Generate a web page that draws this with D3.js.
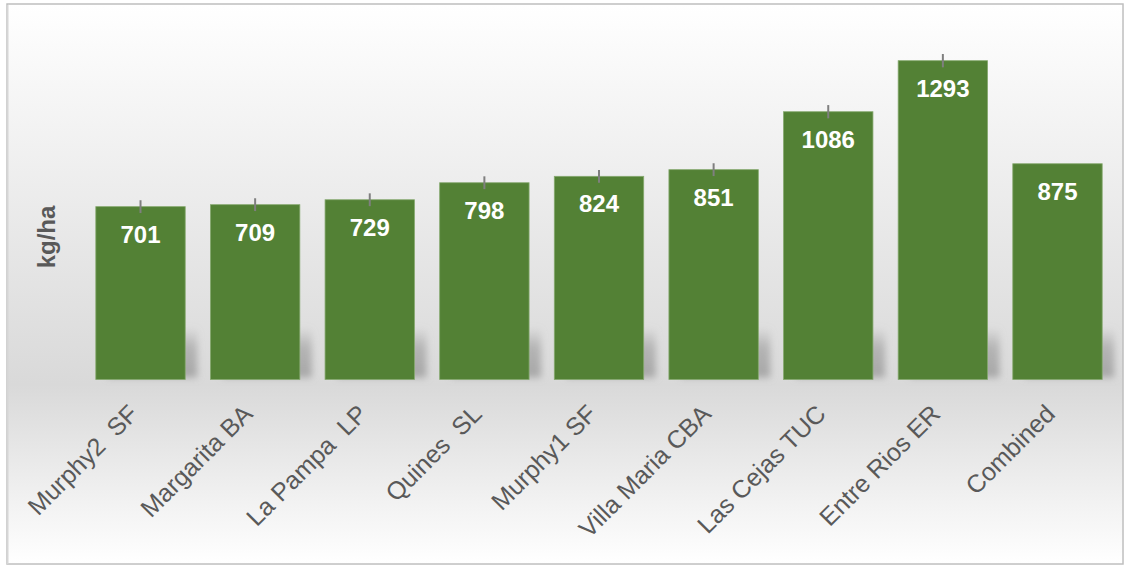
<!DOCTYPE html>
<html>
<head>
<meta charset="utf-8">
<script src="https://cdn.jsdelivr.net/npm/d3@7"></script>
<style>
  body { margin: 0; background: #fff; }
  svg { display: block; font-family: "Liberation Sans", Arial, sans-serif; }
</style>
</head>
<body>
<div id="chart"></div>
<script>
// data
var categories = ["Murphy2  SF", "Margarita BA", "La Pampa  LP", "Quines  SL", "Murphy1 SF",
                  "Villa Maria CBA", "Las Cejas TUC", "Entre Rios ER", "Combined"];
var values = [701, 709, 729, 798, 824, 851, 1086, 1293, 875];
var errors = [26, 26, 26, 26, 26, 26, 27, 27, null];
var yTitle = "kg/ha";

var W = 1128, H = 566;
var svg = d3.select("#chart").append("svg").attr("width", W).attr("height", H);
var defs = svg.append("defs");

/* ---------------------------------------------------------------*/
// background box with vertical gradient
var bg = defs.append("linearGradient").attr("id", "bgGrad")
  .attr("x1", 0).attr("y1", 0).attr("x2", 0).attr("y2", 1);
bg.append("stop").attr("offset", "0%").attr("stop-color", "#ffffff");
bg.append("stop").attr("offset", "68%").attr("stop-color", "#d9d9d9");
bg.append("stop").attr("offset", "100%").attr("stop-color", "#ffffff");

var blur = defs.append("filter").attr("id", "shadowBlur")
  .attr("x", "-30%").attr("y", "-30%").attr("width", "160%").attr("height", "160%");
blur.append("feGaussianBlur").attr("stdDeviation", 3.5);

var sg = defs.append("linearGradient").attr("id", "shGrad")
  .attr("x1", 0).attr("y1", 0).attr("x2", 0).attr("y2", 1);
sg.append("stop").attr("offset", "0%").attr("stop-color", "#9a9a9a").attr("stop-opacity", 0);
sg.append("stop").attr("offset", "40%").attr("stop-color", "#9a9a9a").attr("stop-opacity", 0.6);
sg.append("stop").attr("offset", "100%").attr("stop-color", "#9a9a9a").attr("stop-opacity", 0.8);

svg.append("rect")
  .attr("x", 7).attr("y", 4).attr("width", 1116).attr("height", 560)
  .attr("fill", "url(#bgGrad)")
  .attr("stroke", "#bfbfbf").attr("stroke-width", 1.5);
svg.append("line").attr("x1", 7.5).attr("x2", 7.5).attr("y1", 5).attr("y2", 564)
  .attr("stroke", "#d6d6d6").attr("stroke-width", 2);

/* ---------------------------------------------------------------*/
var x = d3.scaleBand().domain(categories).range([83.2, 1114.8])
  .paddingInner(0.22).paddingOuter(0.11);
var y = d3.scaleLinear().domain([0, 1400]).range([379.5, 34.3]);
var bw = x.bandwidth();

var rows = categories.map(function(c, i) { return {cat: c, v: values[i], e: errors[i]}; });

// bar shadows near the floor
svg.append("g")
  .selectAll("rect").data(rows).enter().append("rect")
  .attr("x", function(d) { return x(d.cat) + 12; })
  .attr("y", y(0) - 52)
  .attr("width", bw)
  .attr("height", 50)
  .attr("fill", "url(#shGrad)")
  .attr("filter", "url(#shadowBlur)");

// bars
svg.append("g").selectAll("rect").data(rows).enter().append("rect")
  .attr("x", function(d) { return x(d.cat); })
  .attr("y", function(d) { return y(d.v); })
  .attr("width", bw)
  .attr("height", function(d) { return y(0) - y(d.v); })
  .attr("fill", "#538135")
  .attr("stroke", "#86a96f").attr("stroke-width", 0.8);

// error bars
svg.append("g").selectAll("line").data(rows.filter(function(d) { return d.e; })).enter().append("line")
  .attr("x1", function(d) { return x(d.cat) + bw / 2; })
  .attr("x2", function(d) { return x(d.cat) + bw / 2; })
  .attr("y1", function(d) { return y(d.v + d.e); })
  .attr("y2", function(d) { return y(d.v - d.e); })
  .attr("stroke", "#7f7f7f").attr("stroke-width", 2);

// value labels
svg.append("g").selectAll("text").data(rows).enter().append("text")
  .attr("x", function(d) { return x(d.cat) + bw / 2; })
  .attr("y", function(d) { return y(d.v) + 36; })
  .attr("text-anchor", "middle")
  .attr("fill", "#ffffff")
  .attr("font-weight", "bold")
  .attr("font-size", 24)
  .text(function(d) { return d.v; });

// x axis labels
var xAxis = d3.axisBottom(x).tickSize(0).tickPadding(0);
var gx = svg.append("g").attr("transform", "translate(0," + y(0) + ")").call(xAxis);
gx.select(".domain").remove();
gx.selectAll(".tick text")
  .attr("font-family", "Liberation Sans, Arial, sans-serif")
  .attr("font-size", 25)
  .attr("fill", "#595959")
  .attr("text-anchor", "end")
  .attr("dy", null)
  .attr("y", 0)
  .style("white-space", "pre")
  .attr("transform", "translate(-1,36) rotate(-45)");

// y title
svg.append("text")
  .attr("transform", "translate(55," + 237 + ") rotate(-90)")
  .attr("text-anchor", "middle")
  .attr("fill", "#595959")
  .attr("font-weight", "bold")
  .attr("font-size", 24)
  .text(yTitle);
</script>
</body>
</html>
